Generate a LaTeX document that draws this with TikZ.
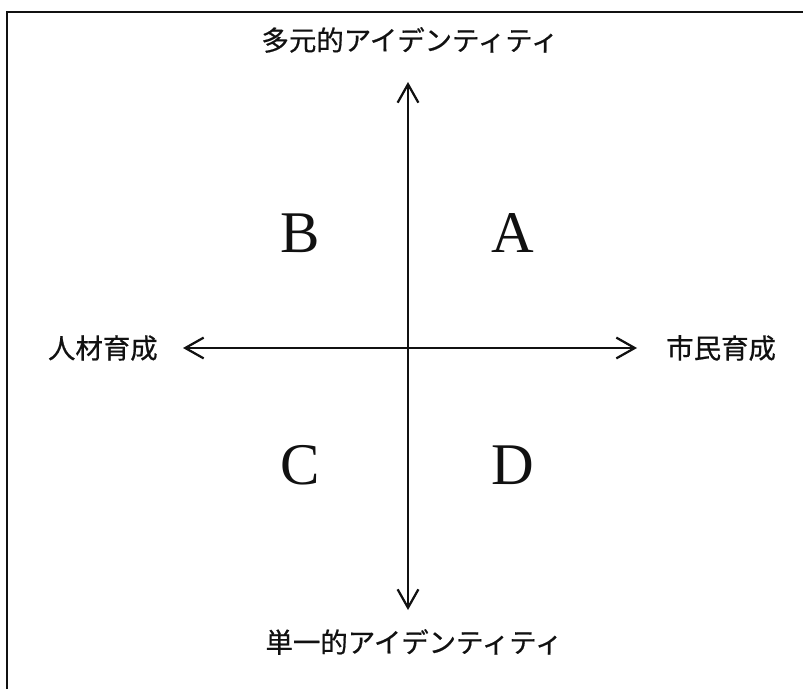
\documentclass[tikz,border=0pt]{standalone}
\usepackage{fontspec}
\setmainfont{Liberation Serif}
\newfontfamily\jpfont[FakeBold=0.6]{Noto Sans CJK JP}
\usetikzlibrary{arrows.meta, positioning}
\definecolor{axisblack}{HTML}{111111}
\tikzset{
  axis/.style={<->, line width=1.6pt, draw=axisblack,
               >={Straight Barb[length=4.6mm, width=5.2mm, line width=1.6pt]}},
  frameline/.style={line width=1.8pt, draw=axisblack},
  axislabel/.style={font=\jpfont\fontsize{19.5}{22}\selectfont, inner sep=0pt, text=axisblack},
  quadlabel/.style={font=\fontsize{42}{45}\selectfont, inner sep=0pt, text=axisblack},
}
\begin{document}
\begin{tikzpicture}[x=1cm, y=1cm]
  \useasboundingbox (0, 0) rectangle (20.075, 17.225);

  % --- open frame (top and left) ---
  \draw[frameline] (0.175, 0) -- (0.175, 16.925) -- (20.075, 16.925);

  % --- axis end points ---
  \coordinate (up)    at (10.2, 15.175);
  \coordinate (down)  at (10.2, 1.975);
  \coordinate (west)  at (4.575, 8.525);
  \coordinate (east)  at (15.925, 8.525);

  % --- axes ---
  \draw[axis] (down) -- (up);
  \draw[axis] (west) -- (east);

  % --- axis labels ---
  \node[axislabel] (multi)  at (10.25, 16.225) {多元的アイデンティティ};
  \node[axislabel] (single) at (10.35, 1.175) {単一的アイデンティティ};
  \node[axislabel, anchor=east] (hr)  at (3.95, 8.525) {人材育成};
  \node[axislabel, anchor=west] (civ) at (16.65, 8.525) {市民育成};

  % --- quadrants ---
  \node[quadlabel] (qa) at (12.825, 11.4) {A};
  \node[quadlabel] (qb) at (7.5, 11.4) {B};
  \node[quadlabel] (qc) at (7.5, 5.6) {C};
  \node[quadlabel] (qd) at (12.825, 5.6) {D};

\end{tikzpicture}
\end{document}
